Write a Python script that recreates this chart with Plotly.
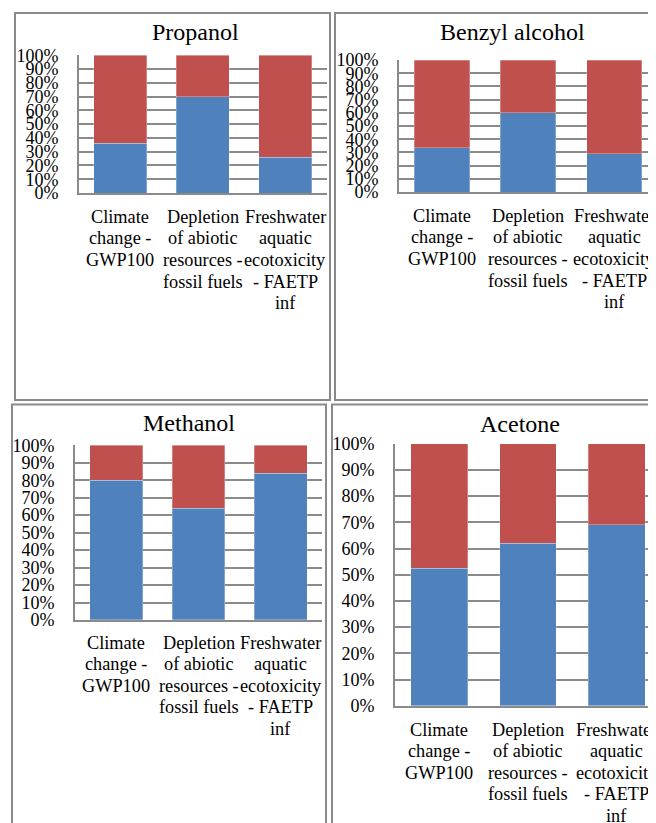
import plotly.graph_objects as go

# browser page adds an 8px body margin; figure is sized/positioned to compensate
OFF = 8
FW, FH = 656 - OFF, 823 - OFF

categories = [
    "Climate<br>change -<br>GWP100",
    "Depletion<br>of abiotic<br>resources -<br>fossil fuels",
    "Freshwater<br>aquatic<br>ecotoxicity<br>- FAETP<br>inf",
]
titles = ["Propanol", "Benzyl alcohol", "Methanol", "Acetone"]

propanol_blue = [36, 70, 26]
propanol_red = [64, 30, 74]
benzyl_blue = [33.5, 60, 29]
benzyl_red = [66.5, 40, 71]
methanol_blue = [80, 64, 84]
methanol_red = [20, 36, 16]
acetone_blue = [52.5, 62, 69]
acetone_red = [47.5, 38, 31]

y_ticks = [0, 10, 20, 30, 40, 50, 60, 70, 80, 90, 100]
y_ticktext = ["0%", "10%", "20%", "30%", "40%", "50%", "60%", "70%", "80%", "90%", "100%"]

BLUE = "#4F81BD"
RED = "#C0504D"
GRID = "#8A8A8A"
FONT = "Liberation Serif"


def px(x):
    return (x - OFF) / FW


def py(y):
    return 1 - (y - OFF) / FH


# screen-pixel layout: (x0, x1, y_top, y_bottom, x_range_end, title_x, title_y, label_offset)
panels = [
    (79, 326.5, 55.3, 193.0, 2.5, 195, 32, 24),
    (399, 656, 60.0, 192.0, 2.488, 512, 32, 24),
    (75, 322, 445.3, 620.0, 2.5, 189, 423, 22.5),
    (395, 656, 443.7, 705.7, 2.443, 520, 424, 24),
]
data = [
    (propanol_blue, propanol_red),
    (benzyl_blue, benzyl_red),
    (methanol_blue, methanol_red),
    (acetone_blue, acetone_red),
]
LINE_GAP = 21.5

fig = go.Figure()
xs = list(range(len(categories)))
annotations = []
for i, ((x0, x1, yt, yb, xend, tx, ty, loff), (blue, red)) in enumerate(zip(panels, data)):
    n = "" if i == 0 else str(i + 1)
    fig.add_trace(go.Bar(x=xs, y=blue,
                         marker=dict(color=BLUE, line=dict(width=0.8, color="rgba(255,255,255,0.35)")),
                         width=0.64, xaxis="x" + n, yaxis="y" + n, showlegend=False,
                         hoverinfo="skip"))
    fig.add_trace(go.Bar(x=xs, y=red,
                         marker=dict(color=RED, line=dict(width=0.8, color="rgba(255,255,255,0.35)")),
                         width=0.64, xaxis="x" + n, yaxis="y" + n, showlegend=False,
                         hoverinfo="skip"))
    fig.layout["xaxis" + n] = dict(
        domain=[px(x0), min(px(x1), 1)], anchor="y" + n, range=[-0.5, xend],
        tickmode="array", tickvals=xs, showticklabels=False,
        showline=True, linecolor=GRID, linewidth=2, showgrid=False,
        zeroline=False, ticks="", automargin=False, fixedrange=True,
    )
    fig.layout["yaxis" + n] = dict(
        domain=[py(yb), py(yt)], anchor="x" + n, range=[0, 100],
        tickmode="array", tickvals=y_ticks, ticktext=y_ticktext,
        tickfont=dict(family=FONT, size=18, color="#000"),
        showline=True, linecolor=GRID, linewidth=2,
        showgrid=True, gridcolor=GRID, gridwidth=1.8, zeroline=False,
        ticks="", ticklabelstandoff=15, automargin=False, fixedrange=True,
    )
    annotations.append(dict(text=titles[i], x=px(tx), y=py(ty), xref="paper", yref="paper",
                            xanchor="center", yanchor="middle", showarrow=False,
                            font=dict(family=FONT, size=24, color="#000")))
    # category labels, one line per annotation, positioned on the category axis
    for ci, cat in enumerate(categories):
        for li, line in enumerate(cat.split("<br>")):
            annotations.append(dict(
                text=line, x=ci, xref="x" + n, y=py(yb + loff + li * LINE_GAP), yref="paper",
                xanchor="center", yanchor="middle", showarrow=False,
                font=dict(family=FONT, size=18.3, color="#000")))

borders = [
    (15, 13, 330, 400),
    (335, 13, 720, 400),
    (12, 404.5, 326, 900),
    (332, 404.5, 720, 900),
]
shapes = []
for (bx0, by0, bx1, by1) in borders:
    shapes.append(dict(type="rect", xref="paper", yref="paper",
                       x0=px(bx0), x1=px(bx1), y0=py(by1), y1=py(by0),
                       line=dict(color="#8A8A8A", width=2), layer="above"))

fig.update_layout(
    width=FW, height=FH, margin=dict(l=0, r=0, t=0, b=0, autoexpand=False),
    paper_bgcolor="white", plot_bgcolor="white", barmode="stack",
    annotations=annotations, shapes=shapes,
)
fig.write_html("out.html", config={"displayModeBar": False})
